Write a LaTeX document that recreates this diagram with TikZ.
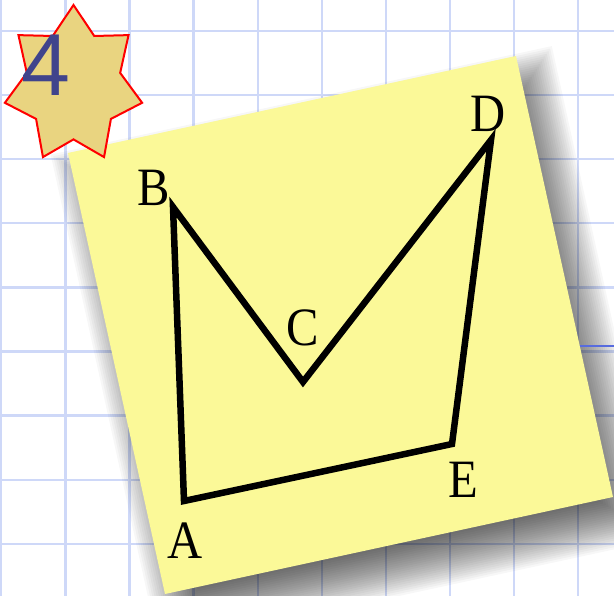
\documentclass[tikz,border=0pt]{standalone}
\usepackage{fontspec}
\newfontfamily\digitfont{Liberation Sans}
\newfontfamily\labelfont{Liberation Serif}
\usetikzlibrary{calc}

\definecolor{gridblue}{RGB}{206,216,248}
\definecolor{noteyellow}{RGB}{251,249,152}
\definecolor{starfill}{RGB}{233,212,128}
\definecolor{numblue}{RGB}{64,68,140}
\definecolor{edgeblue}{RGB}{88,108,222}

\begin{document}
\begin{tikzpicture}[
    x=1pt, y=-1pt,
    gridline/.style={draw=gridblue, line width=2.4},
    shadowlayer/.style={fill=black, opacity=0.032},
    note/.style={fill=noteyellow},
    figline/.style={draw=black, line width=6.5, line join=miter},
    vlabel/.style={inner sep=0pt, xscale=0.9, font=\labelfont\fontsize{54}{54}\selectfont},
    badge/.style={fill=starfill, draw=red, line width=2, line join=miter},
    numtext/.style={inner sep=0pt, text=numblue, font=\digitfont\fontsize{88}{88}\selectfont}
]
    \useasboundingbox[fill=white] (0,0) rectangle (614,596);

    % Grid
    \foreach \k in {0,...,9}
        \draw[gridline] ({1.3+64.1*\k},0) -- ({1.3+64.1*\k},596);
    \foreach \k in {0,...,8}
        \draw[gridline] (0,{31+64.1*\k}) -- (614,{31+64.1*\k});

    % Shadow of the note
    \foreach \s in {0,...,23}{
        \pgfmathsetmacro\sf{0.90+0.0095*\s}
        \fill[shadowlayer, shift={(15,22)}, scale around={\sf:(340.5,325)}]
            (68,153) -- (516,56) -- (613,497) -- (165,594) -- cycle;
    }
    \draw[edgeblue, line width=2] (570,346) -- (614,346);

    % Note
    \coordinate (nTL) at (68,153);
    \coordinate (nTR) at (516,56);
    \coordinate (nBR) at (613,497);
    \coordinate (nBL) at (165,594);
    \fill[note] (nTL) -- (nTR) -- (nBR) -- (nBL) -- cycle;

    % Figure
    \coordinate (A) at (184,501);
    \coordinate (B) at (173,207);
    \coordinate (C) at (303,382);
    \coordinate (D) at (491,140);
    \coordinate (E) at (452,444);
    \draw[figline] (A) -- (B) -- (C) -- (D) -- (E) -- cycle;

    \node[vlabel] (labA) at (185,541) {A};
    \node[vlabel] (labB) at (154,188) {B};
    \node[vlabel] (labC) at (303,328) {C};
    \node[vlabel] (labD) at (488,114) {D};
    \node[vlabel] (labE) at (463,480) {E};

    % Badge
    \coordinate (starc) at (73.5,85);
    \draw[badge] (73.5,5) \foreach \k in {1,...,13}{
        -- ({73.5+0.88*ifthenelse(mod(\k,2)==0,80,54.4)*cos(90-25.714*\k)},
            {85-ifthenelse(mod(\k,2)==0,80,54.4)*sin(90-25.714*\k)})
    } -- cycle;
    \node[numtext] (num) at (46,65) {4};
\end{tikzpicture}
\end{document}
